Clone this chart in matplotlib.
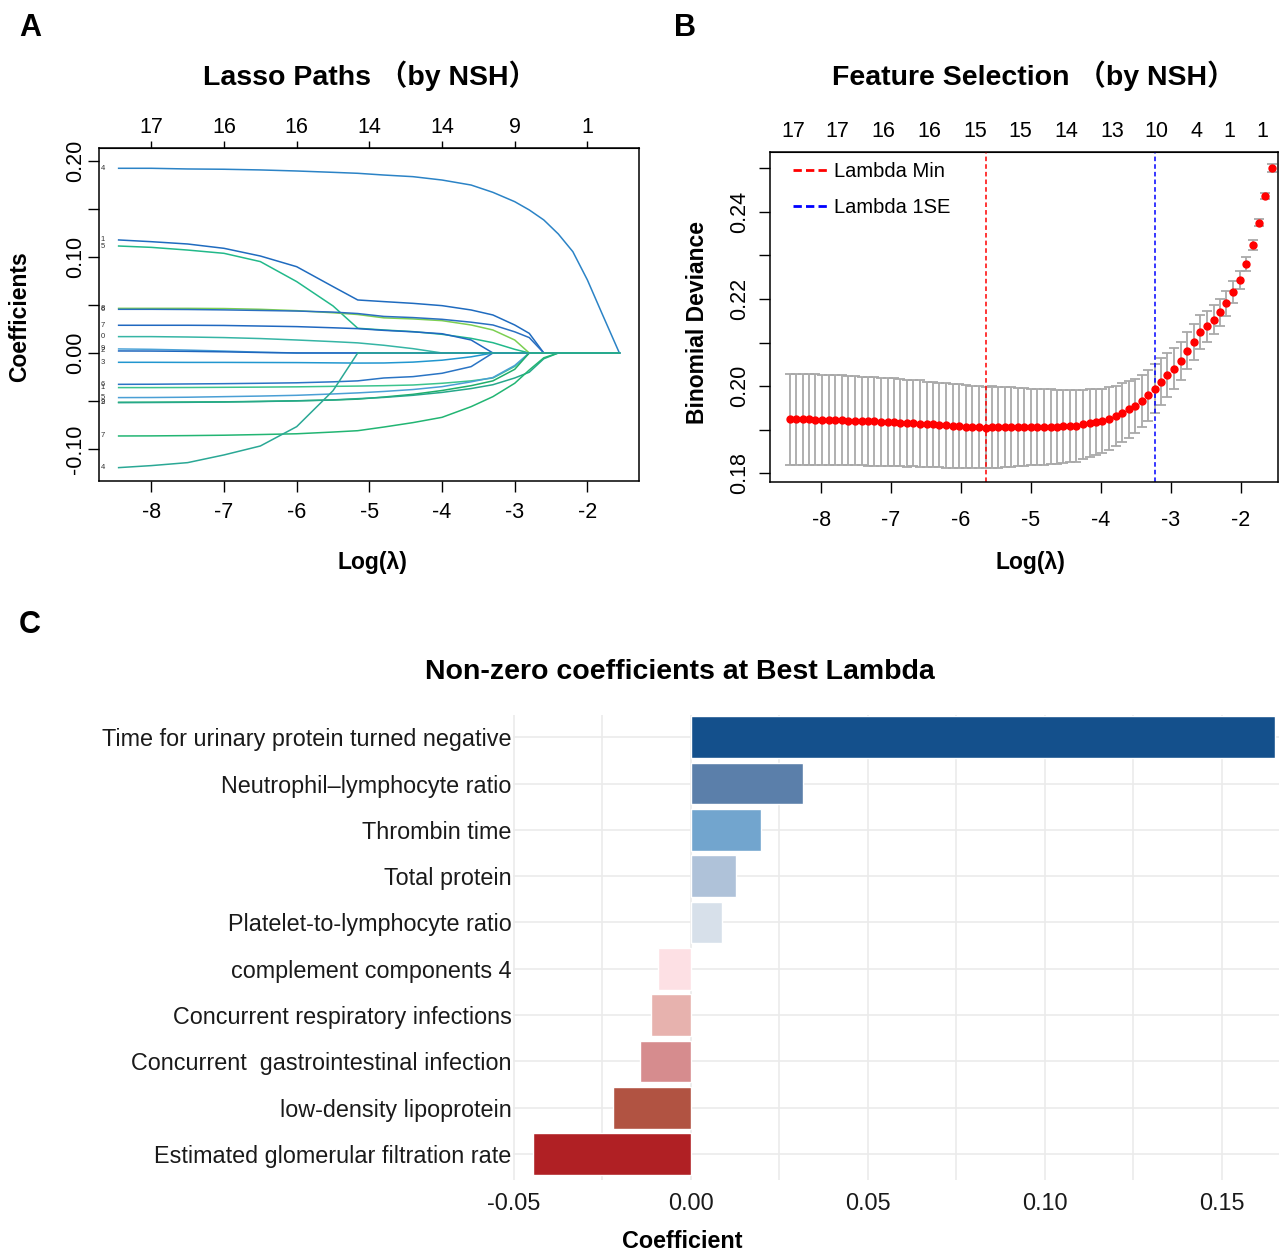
import matplotlib.pyplot as plt
import numpy as np
from matplotlib.lines import Line2D
import matplotlib.ticker as ticker

plt.rcParams['font.family'] = ['Liberation Sans', 'Noto Sans CJK SC', 'DejaVu Sans']
plt.rcParams['axes.unicode_minus'] = False

W, H = 1279, 1251

# ---------------- panel A: lasso coefficient paths ----------------
knot_loglam = [-8.45, -8.0, -7.5, -7.0, -6.5, -6.0, -5.5, -5.16, -4.8, -4.4, -4.0,
               -3.6, -3.3, -3.0, -2.8, -2.6, -2.4, -2.2, -2.0, -1.8, -1.56]

path_04 = [0.1920, 0.1920, 0.1913, 0.1910, 0.1903, 0.1892, 0.1878, 0.1868, 0.1850, 0.1833, 0.1798,
           0.1746, 0.1670, 0.1573, 0.1487, 0.1383, 0.1237, 0.1053, 0.0759, 0.0412, 0.0]
path_01 = [0.1175, 0.1157, 0.1133, 0.1088, 0.1008, 0.0897, 0.0690, 0.0551, 0.0534, 0.0516, 0.0492,
           0.0447, 0.0395, 0.0291, 0.0204, 0.0, 0.0, 0.0, 0.0, 0.0, 0.0]
path_05 = [0.1112, 0.1098, 0.1070, 0.1036, 0.0950, 0.0742, 0.0489, 0.0257, 0.0239, 0.0222, 0.0194,
           0.0152, 0.0107, 0.0038, 0.0, 0.0, 0.0, 0.0, 0.0, 0.0, 0.0]
path_08 = [0.0464, 0.0464, 0.0464, 0.0462, 0.0454, 0.0440, 0.0418, 0.0400, 0.0365, 0.0354, 0.0336,
           0.0291, 0.0239, 0.0135, 0.0, 0.0, 0.0, 0.0, 0.0, 0.0, 0.0]
path_06 = [0.0454, 0.0454, 0.0452, 0.0448, 0.0442, 0.0436, 0.0425, 0.0410, 0.0380, 0.0368, 0.0350,
           0.0320, 0.0291, 0.0220, 0.0160, 0.0, 0.0, 0.0, 0.0, 0.0, 0.0]
path_07 = [0.0288, 0.0288, 0.0288, 0.0286, 0.0280, 0.0274, 0.0262, 0.0253, 0.0235, 0.0220, 0.0200,
           0.0135, 0.0, 0.0, 0.0, 0.0, 0.0, 0.0, 0.0, 0.0, 0.0]
path_10 = [0.0170, 0.0170, 0.0166, 0.0160, 0.0150, 0.0135, 0.0118, 0.0105, 0.0080, 0.0045, 0.0,
           0.0, 0.0, 0.0, 0.0, 0.0, 0.0, 0.0, 0.0, 0.0, 0.0]
path_09 = [0.0042, 0.0038, 0.0030, 0.0020, 0.0008, 0.0, 0.0, 0.0, 0.0, 0.0, 0.0,
           0.0, 0.0, 0.0, 0.0, 0.0, 0.0, 0.0, 0.0, 0.0, 0.0]
path_02 = [0.0021, 0.0020, 0.0017, 0.0012, 0.0005, 0.0, 0.0, 0.0, 0.0, 0.0, 0.0,
           0.0, 0.0, 0.0, 0.0, 0.0, 0.0, 0.0, 0.0, 0.0, 0.0]
path_03 = [-0.0097, -0.0097, -0.0098, -0.0098, -0.0099, -0.0100, -0.0103, -0.0105, -0.0104, -0.0095, -0.0075,
           -0.0040, 0.0, 0.0, 0.0, 0.0, 0.0, 0.0, 0.0, 0.0, 0.0]
path_16 = [-0.0326, -0.0325, -0.0322, -0.0319, -0.0315, -0.0310, -0.0300, -0.0290, -0.0260, -0.0246, -0.0211,
           -0.0142, 0.0, 0.0, 0.0, 0.0, 0.0, 0.0, 0.0, 0.0, 0.0]
path_11 = [-0.0360, -0.0360, -0.0359, -0.0357, -0.0355, -0.0352, -0.0347, -0.0344, -0.0340, -0.0333, -0.0315,
           -0.0290, -0.0260, -0.0140, 0.0, 0.0, 0.0, 0.0, 0.0, 0.0, 0.0]
path_15 = [-0.0464, -0.0463, -0.0460, -0.0454, -0.0448, -0.0440, -0.0426, -0.0415, -0.0400, -0.0380, -0.0350,
           -0.0300, -0.0255, -0.0130, 0.0, 0.0, 0.0, 0.0, 0.0, 0.0, 0.0]
path_12 = [-0.0513, -0.0512, -0.0510, -0.0508, -0.0503, -0.0497, -0.0489, -0.0480, -0.0458, -0.0430, -0.0390,
           -0.0340, -0.0290, -0.0170, 0.0, 0.0, 0.0, 0.0, 0.0, 0.0, 0.0]
path_19 = [-0.0516, -0.0515, -0.0513, -0.0510, -0.0505, -0.0498, -0.0488, -0.0475, -0.0462, -0.0440, -0.0410,
           -0.0370, -0.0330, -0.0260, -0.0200, -0.0060, 0.0, 0.0, 0.0, 0.0, 0.0]
path_17 = [-0.0863, -0.0862, -0.0859, -0.0855, -0.0848, -0.0840, -0.0822, -0.0808, -0.0770, -0.0724, -0.0669,
           -0.0558, -0.0454, -0.0315, -0.0177, -0.0050, 0.0, 0.0, 0.0, 0.0, 0.0]
path_14 = [-0.1192, -0.1171, -0.1140, -0.1060, -0.0967, -0.0766, -0.0392, 0.0, 0.0, 0.0, 0.0,
           0.0, 0.0, 0.0, 0.0, 0.0, 0.0, 0.0, 0.0, 0.0, 0.0]

paths = [path_04, path_01, path_05, path_08, path_06, path_07, path_10, path_09, path_02,
         path_03, path_16, path_11, path_15, path_12, path_19, path_17, path_14]
path_tags = ['4', '1', '5', '8', '6', '7', '0', '9', '2', '3', '6', '1', '5', '2', '9', '7', '4']
path_colors = ['#2b83c6', '#1f6bbf', '#22b98a', '#7ccf52', '#2a6fc0', '#2068c0', '#36b5a5',
               '#4da3d8', '#1e66bd', '#2196cf', '#2a74c4', '#3cc48e', '#4a9fd5', '#1fae6a',
               '#26a88a', '#22b573', '#2aa895']

df_at = [-8, -7, -6, -5, -4, -3, -2]
df_labels = ['17', '16', '16', '14', '14', '9', '1']

# ---------------- panel B: cross-validation curve ----------------
cv_loglam = [-8.45, -8.36, -8.26, -8.17, -8.08, -7.98, -7.89, -7.80, -7.70, -7.61,
             -7.52, -7.42, -7.33, -7.24, -7.15, -7.05, -6.96, -6.87, -6.77, -6.68,
             -6.59, -6.49, -6.40, -6.31, -6.21, -6.12, -6.03, -5.93, -5.84, -5.75,
             -5.65, -5.56, -5.47, -5.37, -5.28, -5.19, -5.10, -5.00, -4.91, -4.82,
             -4.72, -4.63, -4.54, -4.44, -4.35, -4.26, -4.16, -4.07, -3.98, -3.88,
             -3.79, -3.70, -3.60, -3.51, -3.42, -3.33, -3.23, -3.14, -3.05, -2.95,
             -2.86, -2.77, -2.67, -2.58, -2.49, -2.39, -2.30, -2.21, -2.11, -2.02,
             -1.93, -1.83, -1.74, -1.65, -1.56]
cv_mean = [0.1924, 0.1924, 0.1924, 0.1924, 0.1923, 0.1922, 0.1922, 0.1922, 0.1922, 0.1921,
           0.1921, 0.1920, 0.1919, 0.1919, 0.1918, 0.1918, 0.1917, 0.1916, 0.1915, 0.1915,
           0.1914, 0.1912, 0.1912, 0.1911, 0.1910, 0.1909, 0.1909, 0.1907, 0.1906, 0.1906,
           0.1905, 0.1906, 0.1906, 0.1906, 0.1906, 0.1906, 0.1906, 0.1906, 0.1906, 0.1906,
           0.1907, 0.1907, 0.1908, 0.1909, 0.1909, 0.1912, 0.1915, 0.1917, 0.1920, 0.1925,
           0.1932, 0.1939, 0.1947, 0.1955, 0.1966, 0.1979, 0.1994, 0.2010, 0.2025, 0.2040,
           0.2057, 0.2081, 0.2101, 0.2123, 0.2137, 0.2152, 0.2169, 0.2190, 0.2215, 0.2244,
           0.2280, 0.2323, 0.2375, 0.2437, 0.2500]
cv_se = [0.0104, 0.0104, 0.0104, 0.0104, 0.0104, 0.0104, 0.0103, 0.0103, 0.0103, 0.0103,
         0.0103, 0.0102, 0.0102, 0.0102, 0.0101, 0.0101, 0.0101, 0.0100, 0.0100, 0.0099,
         0.0099, 0.0098, 0.0098, 0.0097, 0.0097, 0.0096, 0.0096, 0.0095, 0.0095, 0.0095,
         0.0094, 0.0094, 0.0093, 0.0092, 0.0091, 0.0090, 0.0089, 0.0088, 0.0088, 0.0087,
         0.0086, 0.0085, 0.0084, 0.0083, 0.0082, 0.0080, 0.0078, 0.0076, 0.0074, 0.0072,
         0.0069, 0.0067, 0.0065, 0.0062, 0.0060, 0.0058, 0.0056, 0.0054, 0.0051, 0.0047,
         0.0044, 0.0042, 0.0041, 0.0039, 0.0036, 0.0033, 0.0030, 0.0029, 0.0025, 0.0021,
         0.0016, 0.0011, 0.0008, 0.0007, 0.0009]
lambda_min = -5.65
lambda_1se = -3.23
nz_at = [-8.40, -7.77, -7.11, -6.46, -5.80, -5.16, -4.50, -3.84, -3.21, -2.64, -2.17, -1.70]
nz_labels = ['17', '17', '16', '16', '15', '15', '14', '13', '10', '4', '1', '1']

# ---------------- panel C: non-zero coefficients ----------------
features = ['Time for urinary protein turned negative',
            'Neutrophil\u2013lymphocyte ratio',
            'Thrombin time',
            'Total protein',
            'Platelet-to-lymphocyte ratio',
            'complement components 4',
            'Concurrent respiratory infections',
            'Concurrent  gastrointestinal infection',
            'low-density lipoprotein',
            'Estimated glomerular filtration rate']
coefs = [0.1650, 0.0316, 0.0198, 0.0128, 0.0088, -0.0092, -0.0111, -0.0143, -0.0219, -0.0446]
bar_colors = ['#14508c', '#5b7faa', '#72a5ce', '#afc2d9', '#d7e0ea',
              '#fde0e4', '#e7b2ae', '#d68c8e', '#b15342', '#b02024']


def box(left, top, right, bottom):
    return [left / W, 1 - bottom / H, (right - left) / W, (bottom - top) / H]


fig = plt.figure(figsize=(W / 100, H / 100), dpi=100)

# ---- A
axA = fig.add_axes(box(99, 148, 639, 481))
for vals, col in zip(paths, path_colors):
    axA.plot(knot_loglam, vals, color=col, lw=1.1)
for vals, tag in zip(paths, path_tags):
    axA.text(-8.67, vals[0], tag, fontsize=5.5, color='#333333', ha='center', va='center')
axA.set_xlim(-8.72, -1.29)
axA.set_ylim(-0.1331, 0.2131)
axA.set_xticks(df_at)
axA.set_xticklabels([str(v) for v in df_at])
axA.set_yticks([-0.10, -0.05, 0.0, 0.05, 0.10, 0.15, 0.20])
axA.set_yticklabels(['-0.10', '', '0.00', '', '0.10', '', '0.20'], rotation=90, va='center')
axA.tick_params(axis='both', labelsize=15.5, length=8, width=1)
axA.tick_params(axis='x', pad=7)
axA.tick_params(axis='y', pad=1.5)
topA = axA.secondary_xaxis('top')
topA.set_xticks(df_at)
topA.set_xticklabels(df_labels)
topA.tick_params(labelsize=15.5, length=5, width=1, pad=2)
for s in axA.spines.values():
    s.set_linewidth(1.1)

# ---- B
axB = fig.add_axes(box(770, 152, 1278, 482))
axB.errorbar(cv_loglam, cv_mean, yerr=cv_se, fmt='none', ecolor='#a9a9a9',
             elinewidth=1.3, capsize=3.5, capthick=1.3, zorder=1)
axB.plot(cv_loglam, cv_mean, 'o', color='red', markersize=5, zorder=3)
axB.axvline(lambda_min, color='red', lw=1.1, ls=(0, (3, 2)), zorder=2)
axB.axvline(lambda_1se, color='blue', lw=1.1, ls=(0, (3, 2)), zorder=2)
axB.set_xlim(-8.73, -1.47)
axB.set_ylim(0.178, 0.2537)
axB.set_xticks(df_at)
axB.set_xticklabels([str(v) for v in df_at])
axB.set_yticks([0.18, 0.19, 0.20, 0.21, 0.22, 0.23, 0.24, 0.25])
axB.set_yticklabels(['0.18', '', '0.20', '', '0.22', '', '0.24', ''], rotation=90, va='center')
axB.tick_params(axis='both', labelsize=15.5, length=8, width=1, pad=6)
axB.tick_params(axis='x', pad=12)
topB = axB.secondary_xaxis('top')
topB.set_xticks(nz_at)
topB.set_xticklabels(nz_labels)
topB.tick_params(labelsize=15.5, length=0, pad=7)
for s in axB.spines.values():
    s.set_linewidth(1.1)
leg_handles = [Line2D([0], [0], color='red', lw=2, ls=(0, (3, 1.5))),
               Line2D([0], [0], color='blue', lw=2, ls=(0, (3, 1.5)))]
axB.legend(leg_handles, ['Lambda Min', 'Lambda 1SE'], loc='upper left', frameon=False,
           fontsize=14.5, handlelength=1.7, handletextpad=0.3, labelspacing=0.85,
           borderaxespad=0, bbox_to_anchor=(0.03, 0.995))

# ---- C
axC = fig.add_axes(box(513, 715, 1279, 1180))
ypos = np.arange(len(features))[::-1]
axC.barh(ypos, coefs, height=0.9, color=bar_colors, edgecolor='white', lw=1, zorder=3)
axC.set_xlim(-0.0502, 0.1662)
axC.set_ylim(-0.56, 9.48)
axC.set_yticks(ypos)
axC.set_yticklabels(features)
axC.xaxis.set_major_locator(ticker.MultipleLocator(0.05))
axC.xaxis.set_minor_locator(ticker.MultipleLocator(0.025))
axC.xaxis.set_major_formatter(ticker.FormatStrFormatter('%.2f'))
axC.grid(True, which='both', color='#ebebeb', lw=1.2, zorder=0)
axC.set_axisbelow(True)
for s in axC.spines.values():
    s.set_visible(False)
axC.tick_params(axis='both', which='both', length=0, labelsize=16.8, colors='#1a1a1a')
axC.tick_params(axis='y', pad=1)
axC.tick_params(axis='x', pad=9)

# ---- texts
def put(px, py, s, **kw):
    fig.text(px / W, 1 - py / H, s, ha='center', va='center', **kw)

put(30, 28, 'A', fontsize=22, fontweight='bold')
put(685, 28, 'B', fontsize=22, fontweight='bold')
put(30, 625, 'C', fontsize=22, fontweight='bold')
put(370, 76, 'Lasso Paths \uff08by NSH\uff09', fontsize=20.5, fontweight='bold')
put(1034, 76, 'Feature Selection \uff08by NSH\uff09', fontsize=20.5, fontweight='bold')
put(20, 317, 'Coefficients', fontsize=16.5, fontweight='bold', rotation=90)
put(372, 563, 'Log(\u03bb)', fontsize=16.5, fontweight='bold')
put(697, 323, 'Binomial Deviance', fontsize=16.5, fontweight='bold', rotation=90)
put(1030, 563, 'Log(\u03bb)', fontsize=16.5, fontweight='bold')
put(680, 672, 'Non-zero coefficients at Best Lambda', fontsize=20.5, fontweight='bold')
put(682, 1241, 'Coefficient', fontsize=16.8, fontweight='bold')

fig.savefig('out.png', dpi=100)
